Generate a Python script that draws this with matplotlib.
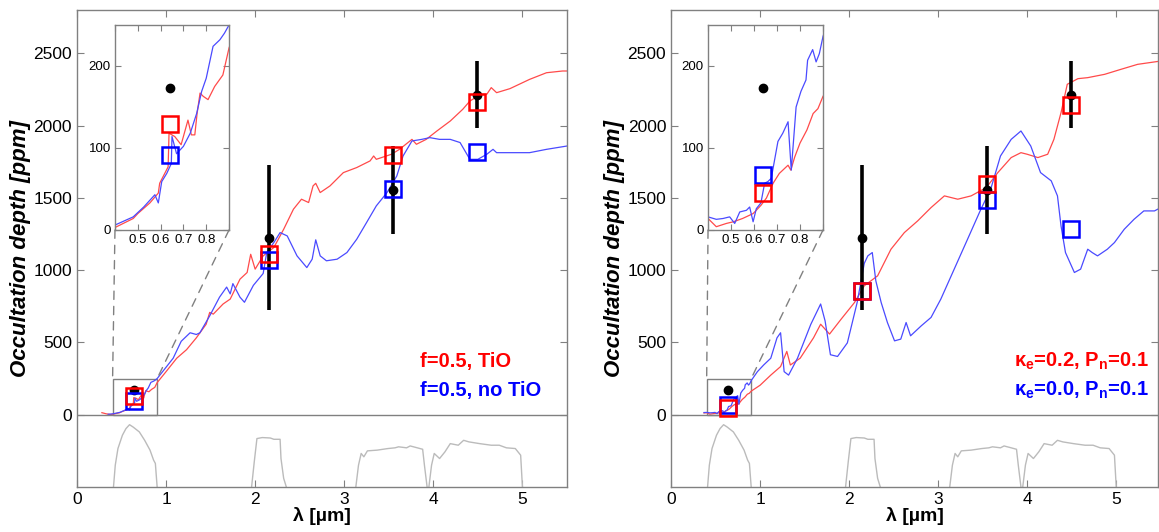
import matplotlib
matplotlib.use('Agg')
import matplotlib.pyplot as plt
from matplotlib.patches import Rectangle, ConnectionPatch

plt.rcParams['font.family'] = ['Liberation Sans', 'DejaVu Sans']
plt.rcParams['mathtext.fontset'] = 'custom'
plt.rcParams['mathtext.rm'] = 'Liberation Sans'
plt.rcParams['mathtext.bf'] = 'Liberation Sans:bold'
plt.rcParams['mathtext.it'] = 'Liberation Sans:italic'

# observed occultation depths (ppm)
obs_x = [0.64, 2.15, 3.55, 4.49]
obs_y = [173, 1226, 1555, 2215]
obs_err = [0, 500, 305, 230]

# band-integrated model points
band_x = [0.64, 2.15, 3.55, 4.49]
left_red_band = [129, 1110, 1797, 2165]
left_blue_band = [92, 1070, 1563, 1816]
right_red_band = [45, 856, 1598, 2142]
right_blue_band = [67, 856, 1488, 1288]

# left panel model spectra
left_red_x = [0.28, 0.33, 0.38, 0.4, 0.48, 0.5, 0.553, 0.59, 0.596, 0.633, 0.637, 0.662, 0.69,
              0.72, 0.735, 0.75, 0.76, 0.773, 0.787, 0.808, 0.837, 0.873, 0.9, 1.0, 1.12, 1.23,
              1.34, 1.45, 1.49, 1.53, 1.64, 1.72, 1.83, 1.91, 1.95, 2.0, 2.09, 2.21, 2.32, 2.43,
              2.52, 2.60, 2.65, 2.68, 2.73, 2.84, 2.99, 3.14, 3.29, 3.33, 3.36, 3.53, 3.62, 3.76,
              3.81, 3.92, 4.04, 4.19, 4.33, 4.41, 4.47, 4.54, 4.60, 4.65, 4.71, 4.86, 5.08, 5.27,
              5.45, 5.5]
left_red_y = [14, 6, 1, 3, 14, 20, 33, 45, 57, 77, 118, 114, 104, 134, 116, 116, 142, 167, 163,
              159, 175, 189, 222, 298, 391, 450, 532, 626, 708, 696, 766, 800, 938, 984, 1110,
              1007, 1099, 1157, 1283, 1422, 1491, 1468, 1583, 1601, 1537, 1583, 1675, 1710, 1756,
              1790, 1767, 1802, 1836, 1905, 1871, 1905, 1963, 2032, 2113, 2170, 2193, 2217, 2217,
              2263, 2228, 2256, 2320, 2366, 2378, 2378]
left_blue_x = [0.35, 0.4, 0.48, 0.526, 0.575, 0.59, 0.605, 0.627, 0.647, 0.65, 0.67, 0.70, 0.73,
               0.758, 0.78, 0.80, 0.83, 0.86, 0.88, 0.9, 1.08, 1.17, 1.27, 1.34, 1.38, 1.49, 1.60,
               1.68, 1.72, 1.75, 1.83, 1.88, 1.98, 2.09, 2.13, 2.21, 2.28, 2.36, 2.47, 2.58, 2.64,
               2.68, 2.73, 2.80, 2.92, 3.03, 3.14, 3.25, 3.36, 3.48, 3.59, 3.66, 3.76, 3.87, 3.96,
               4.07, 4.19, 4.30, 4.41, 4.50, 4.60, 4.67, 4.71, 4.89, 5.08, 5.27, 5.5]
left_blue_y = [3, 6, 16, 28, 43, 33, 59, 69, 81, 114, 93, 102, 118, 142, 169, 185, 224, 232, 240,
               250, 391, 508, 567, 555, 567, 684, 813, 883, 836, 907, 813, 778, 895, 977, 1122,
               1191, 1260, 1237, 1099, 1018, 1076, 1210, 1099, 1065, 1076, 1122, 1214, 1329, 1445,
               1537, 1652, 1790, 1894, 1905, 1917, 1905, 1905, 1883, 1767, 1767, 1802, 1836, 1813,
               1813, 1813, 1836, 1859]

# right panel model spectra
right_red_x = [0.37, 0.4, 0.436, 0.48, 0.51, 0.55, 0.596, 0.63, 0.654, 0.683, 0.71, 0.748, 0.76,
               0.777, 0.80, 0.83, 0.857, 0.878, 0.9, 1.0, 1.12, 1.23, 1.30, 1.34, 1.45, 1.60, 1.68,
               1.78, 1.91, 2.06, 2.17, 2.32, 2.47, 2.62, 2.77, 2.92, 3.07, 3.22, 3.37, 3.54, 3.67,
               3.82, 3.93, 4.00, 4.12, 4.23, 4.30, 4.38, 4.45, 4.57, 4.68, 4.87, 5.05, 5.24, 5.5]
right_red_y = [12, 14, 4, 8, 10, 14, 20, 30, 39, 57, 69, 79, 73, 89, 106, 122, 142, 148, 163, 204,
               274, 333, 438, 344, 391, 532, 626, 558, 661, 776, 892, 961, 1145, 1260, 1341, 1433,
               1514, 1491, 1514, 1571, 1675, 1779, 1813, 1802, 1779, 1802, 1905, 2090, 2286, 2325,
               2332, 2355, 2389, 2424, 2447]
right_blue_x = [0.37, 0.4, 0.436, 0.465, 0.494, 0.516, 0.538, 0.567, 0.581, 0.596, 0.61, 0.63,
                0.646, 0.66, 0.675, 0.704, 0.725, 0.748, 0.762, 0.783, 0.804, 0.826, 0.833, 0.855,
                0.87, 0.884, 0.9, 0.97, 1.04, 1.12, 1.19, 1.23, 1.27, 1.32, 1.42, 1.57, 1.68, 1.73,
                1.79, 1.87, 1.98, 2.09, 2.17, 2.21, 2.26, 2.30, 2.36, 2.43, 2.51, 2.58, 2.64, 2.69,
                2.81, 2.92, 3.03, 3.18, 3.33, 3.48, 3.59, 3.70, 3.82, 3.93, 4.04, 4.15, 4.27, 4.34,
                4.38, 4.43, 4.53, 4.60, 4.68, 4.73, 4.79, 4.90, 4.98, 5.09, 5.20, 5.31, 5.43, 5.5]
right_blue_y = [15, 16, 13, 14, 16, 8, 22, 24, 28, 10, 26, 33, 57, 59, 63, 108, 118, 132, 73, 150,
                169, 183, 207, 220, 205, 215, 236, 298, 344, 391, 532, 567, 298, 274, 391, 626, 766,
                649, 415, 403, 497, 776, 1047, 1099, 1122, 926, 776, 638, 511, 523, 638, 546, 615,
                673, 800, 1007, 1214, 1422, 1560, 1790, 1905, 1963, 1859, 1675, 1618, 1514, 1306,
                1122, 984, 1007, 1145, 1122, 1099, 1145, 1191, 1283, 1352, 1410, 1410, 1433]

# filter transmission curves, drawn in the strip below zero
kepler_x = [0.41, 0.43, 0.46, 0.51, 0.55, 0.59, 0.63, 0.70, 0.76, 0.82, 0.86, 0.88, 0.90]
kepler_y = [-500, -349, -234, -142, -96, -69, -85, -119, -177, -245, -314, -337, -500]
ks_x = [1.96, 1.99, 2.02, 2.08, 2.17, 2.21, 2.28, 2.29, 2.32, 2.35]
ks_y = [-500, -326, -165, -158, -161, -170, -170, -303, -440, -500]
irac1_x = [3.13, 3.16, 3.19, 3.22, 3.26, 3.37, 3.49, 3.57, 3.61, 3.70, 3.74, 3.82, 3.88, 3.90, 3.93]
irac1_y = [-500, -349, -268, -291, -250, -245, -234, -229, -222, -229, -216, -229, -239, -349, -500]
irac2_x = [3.95, 3.98, 4.01, 4.07, 4.13, 4.19, 4.28, 4.34, 4.40, 4.52, 4.65, 4.74, 4.82, 4.92,
           4.98, 5.00]
irac2_y = [-500, -349, -268, -303, -257, -200, -211, -177, -188, -200, -211, -211, -229, -234,
           -280, -500]

left_labels = ['f=0.5, TiO', 'f=0.5, no TiO']
right_labels = ['κ$_\\mathbf{e}$=0.2, P$_\\mathbf{n}$=0.1',
                'κ$_\\mathbf{e}$=0.0, P$_\\mathbf{n}$=0.1']

GRAY = '#808080'
LRED = '#ff4a4a'
LBLUE = '#4a4aff'


def style_axes(ax, size):
    for s in ax.spines.values():
        s.set_color(GRAY)
        s.set_linewidth(1.0)
    ax.tick_params(direction='in', top=True, right=True, color=GRAY,
                   labelsize=size, length=5, width=0.8)


def draw_panel(ax, ins, red_x, red_y, blue_x, blue_y, red_band, blue_band, labels, xmax):
    ax.plot(red_x, red_y, color=LRED, lw=0.9)
    ax.plot(blue_x, blue_y, color=LBLUE, lw=0.9)
    ax.axhline(0, color=GRAY, lw=1.0)
    for fx, fy in [(kepler_x, kepler_y), (ks_x, ks_y), (irac1_x, irac1_y), (irac2_x, irac2_y)]:
        ax.plot(fx, fy, color='#bbbbbb', lw=1.0)
    ax.errorbar(obs_x, obs_y, yerr=obs_err, fmt='o', color='k', ms=6, elinewidth=2.6,
                capsize=0, zorder=5)
    ax.plot(band_x, blue_band, 's', mfc='none', mec='b', ms=11, mew=1.8, zorder=6)
    ax.plot(band_x, red_band, 's', mfc='none', mec='r', ms=11, mew=1.8, zorder=7)
    ax.add_patch(Rectangle((0.4, 0), 0.5, 250, fill=False, ec=GRAY, lw=1.0))
    ax.set_xlim(0, xmax)
    ax.set_ylim(-500, 2800)
    ax.set_yticks([0, 500, 1000, 1500, 2000, 2500])
    ax.set_xticks([0, 1, 2, 3, 4, 5])
    style_axes(ax, 12.5)
    ax.set_ylabel('Occultation depth [ppm]', fontsize=16, fontweight='bold', style='italic',
                  labelpad=2)
    ax.set_xlabel('λ [µm]', fontsize=14, fontweight='bold', labelpad=0)
    ax.text(3.85, 332, labels[0], color='r', fontsize=14.5, fontweight='bold', va='baseline')
    ax.text(3.85, 131, labels[1], color='b', fontsize=14.5, fontweight='bold', va='baseline')

    # zoom inset
    ins.plot(red_x, red_y, color=LRED, lw=0.9)
    ins.plot(blue_x, blue_y, color=LBLUE, lw=0.9)
    ins.plot(obs_x[:1], obs_y[:1], 'o', color='k', ms=6)
    ins.plot(band_x[:1], blue_band[:1], 's', mfc='none', mec='b', ms=11, mew=1.8)
    ins.plot(band_x[:1], red_band[:1], 's', mfc='none', mec='r', ms=11, mew=1.8)
    ins.set_xlim(0.4, 0.9)
    ins.set_ylim(0, 250)
    ins.set_xticks([0.4, 0.5, 0.6, 0.7, 0.8, 0.9])
    ins.set_xticklabels(['', '0.5', '0.6', '0.7', '0.8', ''])
    ins.set_yticks([0, 100, 200])
    style_axes(ins, 9.5)
    ins.tick_params(length=4, pad=3)

    for corner, xa in [((0, 0), 0.4), ((1, 0), 0.9)]:
        con = ConnectionPatch(xyA=corner, coordsA=ins.transAxes, xyB=(xa, 250),
                              coordsB=ax.transData, ls=(0, (6, 5)), color=GRAY, lw=1.0)
        fig.add_artist(con)


fig = plt.figure(figsize=(11.59, 5.32), dpi=100)
ax1 = fig.add_axes([0.0664, 0.0846, 0.4228, 0.8966])
ax2 = fig.add_axes([0.579, 0.0846, 0.4202, 0.8966])
ins1 = fig.add_axes([0.0992, 0.5677, 0.0984, 0.3853])
ins2 = fig.add_axes([0.6109, 0.5677, 0.0992, 0.3853])

draw_panel(ax1, ins1, left_red_x, left_red_y, left_blue_x, left_blue_y,
           left_red_band, left_blue_band, left_labels, 5.5)
draw_panel(ax2, ins2, right_red_x, right_red_y, right_blue_x, right_blue_y,
           right_red_band, right_blue_band, right_labels, 5.47)

fig.savefig('out.png', dpi=100)
